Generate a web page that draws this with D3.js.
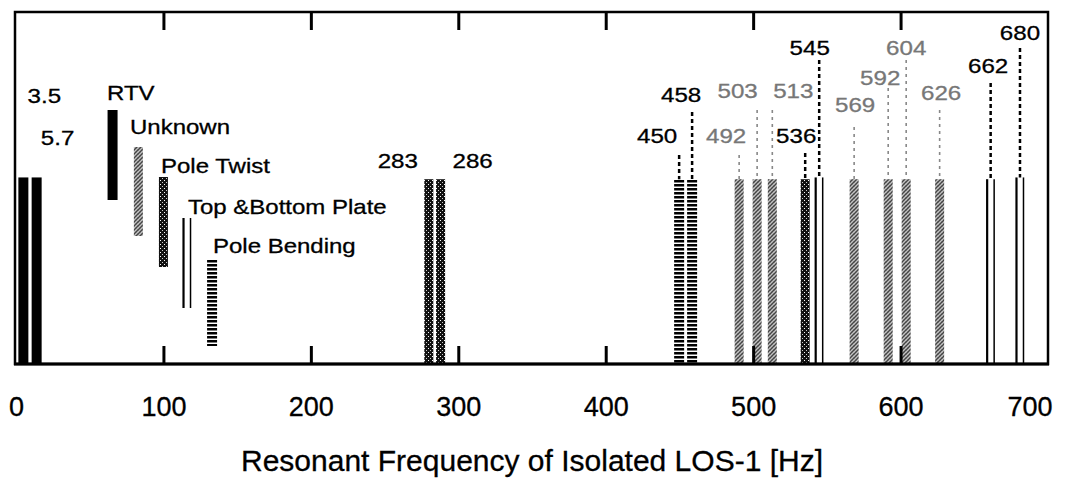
<!DOCTYPE html>
<html>
<head>
<meta charset="utf-8">
<script src="https://cdn.jsdelivr.net/npm/d3@7"></script>
<style>
  body { margin: 0; background: #fff; }
  svg { display: block; font-family: "Liberation Sans", Arial, Helvetica, sans-serif; }
</style>
</head>
<body>
<svg id="chart" width="1076" height="486"></svg>
<script>
// ---- data ----
var modeLabels = ["3.5", "5.7", "283", "286", "450", "458", "492", "503", "513", "536", "545", "569", "592", "604", "626", "662", "680"];
var modeBarHz  = [5, 14, 280, 288, 449.8, 458.6, 490.5, 502.7, 513, 535.3, 544.8, 568.5, 591.6, 603.8, 626.5, 661.1, 681];
var modeTypes  = ["rtv", "rtv", "twist", "twist", "bending", "bending", "unknown", "unknown", "unknown", "twist", "plate", "unknown", "unknown", "unknown", "unknown", "plate", "plate"];
var modeLevel  = [0.53, 0.53, 0.525, 0.525, 0.525, 0.525, 0.525, 0.525, 0.525, 0.525, 0.53, 0.525, 0.525, 0.525, 0.525, 0.525, 0.53];

var legendNames = ["RTV", "Unknown", "Pole Twist", "Top &Bottom Plate", "Pole Bending"];
var legendTypes = ["rtv", "unknown", "twist", "plate", "bending"];
var legendBarHz = [65.5, 83, 100, 116, 133];

var tickValues = [0, 100, 200, 300, 400, 500, 600, 700];
var xTitle = "Resonant Frequency of Isolated LOS-1 [Hz]";

// ---- layout (pixels) ----
var labelDx   = [21, 21, -31, 32, -22, -11, -13, -19.5, 21, -9, -9.5, 1, -8, 0, 1.5, -2.5, 0];
var labelY    = [103, 145, 168, 168, 143, 102, 143, 98, 98, 143, 55, 112, 85, 55, 100, 73, 40];
var leaderTop = [null, null, null, null, 155, 112, 155, 110, 110, 153, 60, 127, 88, 60, 110, 83, 48];
var legendTop = [110, 147, 177, 218, 260];
var legendBot = [200, 236, 267, 308, 346];
var legendTextX = [107, 130, 161, 188, 213];
var legendTextY = [100, 134, 173, 214, 253];

var svg = d3.select("#chart");
var plotL = 16, plotR = 1048, plotT = 12, plotB = 364;

var x = d3.scaleLinear().domain([0, 700]).range([plotL, plotR]);
var y = d3.scaleLinear().domain([0, 1]).range([plotB, plotT]);

// fills
var defs = svg.append("defs");
var dark = defs.append("pattern").attr("id", "dark").attr("width", 4).attr("height", 4)
  .attr("patternUnits", "userSpaceOnUse");
dark.append("rect").attr("width", 4).attr("height", 4).attr("fill", "#111");
dark.append("rect").attr("x", 0).attr("y", 0).attr("width", 1).attr("height", 1).attr("fill", "#fff");
dark.append("rect").attr("x", 2).attr("y", 2).attr("width", 1).attr("height", 1).attr("fill", "#ccc");

var grey = defs.append("pattern").attr("id", "grey").attr("width", 4).attr("height", 4)
  .attr("patternUnits", "userSpaceOnUse");
grey.append("rect").attr("width", 4).attr("height", 4).attr("fill", "#c4c4c4");
grey.append("path").attr("d", "M0,4L4,0").attr("stroke", "#444").attr("stroke-width", 1.3);
grey.append("path").attr("d", "M0,0L4,4").attr("stroke", "#777").attr("stroke-width", 0.9);

var stripe = defs.append("pattern").attr("id", "stripe").attr("width", 10).attr("height", 4)
  .attr("patternUnits", "userSpaceOnUse");
stripe.append("rect").attr("width", 10).attr("height", 2.5).attr("fill", "#000");

function drawMark(g, type, cx, y0, y1) {
  if (type == "plate") {
    g.append("line").attr("x1", cx - 3.5).attr("x2", cx - 3.5).attr("y1", y0).attr("y2", y1)
      .attr("stroke", "#000").attr("stroke-width", 2.2);
    g.append("line").attr("x1", cx + 3.5).attr("x2", cx + 3.5).attr("y1", y0).attr("y2", y1)
      .attr("stroke", "#000").attr("stroke-width", 1.5);
    return;
  }
  var w = (type == "rtv" || type == "bending") ? 10 : 9;
  var fill = {rtv: "#000", unknown: "url(#grey)", twist: "url(#dark)", bending: "url(#stripe)"}[type];
  g.append("rect").attr("x", cx - w / 2).attr("y", y0).attr("width", w).attr("height", y1 - y0)
    .attr("fill", fill);
}

// bars
var bars = svg.append("g");
modeBarHz.forEach(function(v, i) {
  drawMark(bars, modeTypes[i], x(v), y(modeLevel[i]), y(0));
});

// dashed leaders above bars
modeBarHz.forEach(function(v, i) {
  if (leaderTop[i] == null) return;
  var isGrey = modeTypes[i] == "unknown";
  svg.append("line")
    .attr("x1", x(v)).attr("x2", x(v))
    .attr("y1", leaderTop[i]).attr("y2", y(modeLevel[i]))
    .attr("stroke", isGrey ? "#888" : "#000")
    .attr("stroke-width", isGrey ? 1.6 : 2.5)
    .attr("stroke-dasharray", isGrey ? "3,4" : "4,3");
});

// frequency labels
modeLabels.forEach(function(t, i) {
  var c = modeTypes[i] == "unknown" ? "#777" : "#000";
  svg.append("text")
    .attr("transform", "translate(" + (x(modeBarHz[i]) + labelDx[i]) + "," + labelY[i] + ") scale(1.15,1)")
    .attr("text-anchor", "middle")
    .style("font-size", "21px")
    .style("fill", c).style("stroke", c).style("stroke-width", 0.3)
    .text(t);
});

// legend (drawn inside plot)
legendNames.forEach(function(n, i) {
  drawMark(svg.append("g"), legendTypes[i], x(legendBarHz[i]), legendTop[i], legendBot[i]);
  svg.append("text")
    .attr("transform", "translate(" + legendTextX[i] + "," + legendTextY[i] + ") scale(1.2,1)")
    .style("font-size", "20px").style("stroke", "#000").style("stroke-width", 0.3)
    .text(n);
});

// frame
svg.append("rect").attr("x", 15).attr("y", plotT).attr("width", plotR - 15).attr("height", plotB - plotT)
  .attr("fill", "none").attr("stroke", "#000").attr("stroke-width", 2.5);
svg.append("line").attr("x1", 14).attr("x2", plotR + 1).attr("y1", plotB).attr("y2", plotB)
  .attr("stroke", "#000").attr("stroke-width", 3);

// axes with inward ticks
var inner = tickValues.slice(1, -1);
var xAxis = svg.append("g").attr("transform", "translate(0," + plotB + ")")
  .call(d3.axisBottom(x).tickValues(tickValues).tickSize(-18).tickPadding(33));
xAxis.select(".domain").remove();
xAxis.selectAll(".tick line").attr("stroke-width", 3)
  .attr("display", function(d) { return inner.indexOf(d) < 0 ? "none" : null; });
xAxis.selectAll(".tick text")
  .style("font-size", "27px").style("font-family", "'Liberation Sans', Arial, sans-serif")
  .attr("fill", "#000").style("stroke", "#000").style("stroke-width", 0.3);
xAxis.selectAll(".tick text").filter(function(d) { return d == 700; })
  .attr("text-anchor", "end").attr("x", 4);

var topAxis = svg.append("g").attr("transform", "translate(0," + plotT + ")")
  .call(d3.axisTop(x).tickValues(inner).tickSize(-18).tickFormat(""));
topAxis.select(".domain").remove();
topAxis.selectAll(".tick line").attr("stroke-width", 3);

svg.append("text")
  .attr("x", 532).attr("y", 471)
  .attr("text-anchor", "middle")
  .style("font-size", "30px").style("stroke", "#000").style("stroke-width", 0.3)
  .text(xTitle);
</script>
</body>
</html>
